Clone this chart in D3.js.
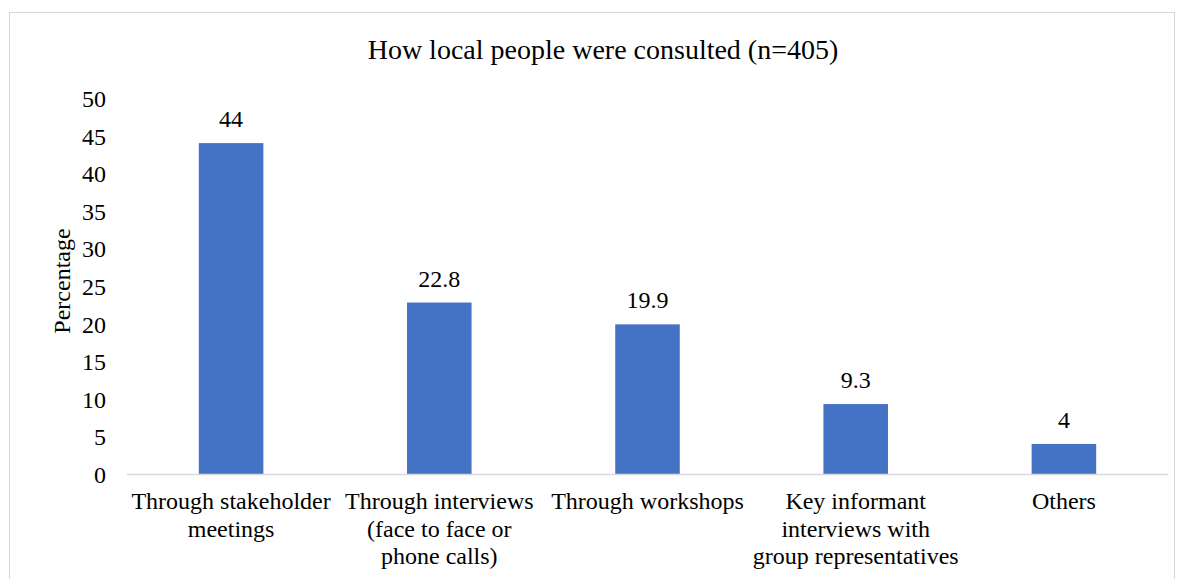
<!DOCTYPE html>
<html>
<head>
<meta charset="utf-8">
<script src="https://cdn.jsdelivr.net/npm/d3@7"></script>
<style>
  html, body { margin: 0; padding: 0; background: #fff; }
  svg { display: block; }
</style>
</head>
<body>
<svg id="chart" width="1184" height="579"></svg>
<script>
// Survey responses: how local people were consulted (n=405)
const categories = [
  ["Through stakeholder", "meetings"],
  ["Through interviews", "(face to face or", "phone calls)"],
  ["Through workshops"],
  ["Key informant", "interviews with", "group representatives"],
  ["Others"]
];
const percentages = [44, 22.8, 19.9, 9.3, 4];
const yTicks = [0, 5, 10, 15, 20, 25, 30, 35, 40, 45, 50];
const chartTitle = "How local people were consulted (n=405)";
const yTitle = "Percentage";

const FONT = "'Liberation Serif', 'Times New Roman', serif";
const W = 1184, H = 579;
const margin = { top: 98, right: 16, bottom: 105, left: 127 };
const svg = d3.select("#chart");

// chart frame
svg.append("rect")
  .attr("x", 9.5).attr("y", 12.5)
  .attr("width", 1165).attr("height", 580)
  .attr("fill", "none").attr("stroke", "#d9d9d9").attr("stroke-width", 1);

const x = d3.scaleBand()
  .domain(d3.range(categories.length))
  .range([margin.left, W - margin.right])
  .paddingInner(0.69).paddingOuter(0.345);

const y = d3.scaleLinear()
  .domain([0, 50])
  .range([H - margin.bottom, margin.top]);

// title
svg.append("text")
  .attr("x", 603).attr("y", 59)
  .attr("text-anchor", "middle")
  .style("font-family", FONT)
  .style("font-size", "28px")
  .attr("fill", "#000")
  .text(chartTitle);

// y axis (labels only)
const yAxis = d3.axisLeft(y).tickValues(yTicks).tickSize(0).tickPadding(0);
const gy = svg.append("g")
  .attr("transform", `translate(106,0)`)
  .call(yAxis);
gy.select(".domain").remove();
gy.selectAll("text")
  .style("font-size", "24px")
  .style("font-family", FONT)
  .attr("fill", "#000")
  .attr("dy", "0.35em");

// y axis title
svg.append("text")
  .attr("transform", `translate(70,281) rotate(-90)`)
  .attr("text-anchor", "middle")
  .style("font-family", FONT)
  .style("font-size", "24px")
  .attr("fill", "#000")
  .text(yTitle);

// bars
svg.append("g").selectAll("rect")
  .data(percentages)
  .join("rect")
  .attr("x", (d, i) => x(i))
  .attr("y", d => y(d))
  .attr("width", x.bandwidth())
  .attr("height", d => y(0) - y(d))
  .attr("fill", "#4472c4");

// value labels
svg.append("g").selectAll("text")
  .data(percentages)
  .join("text")
  .attr("x", (d, i) => x(i) + x.bandwidth() / 2)
  .attr("y", d => y(d) - 16)
  .attr("text-anchor", "middle")
  .style("font-family", FONT)
  .style("font-size", "24px")
  .attr("fill", "#000")
  .text(d => d);

// x axis baseline
svg.append("line")
  .attr("x1", margin.left).attr("x2", W - margin.right)
  .attr("y1", y(0) + 0.5).attr("y2", y(0) + 0.5)
  .attr("stroke", "#d9d9d9").attr("stroke-width", 1.5);

// category labels
const xAxis = d3.axisBottom(x).tickSize(0).tickFormat(() => "");
const gx = svg.append("g")
  .attr("transform", `translate(0,${y(0)})`)
  .call(xAxis);
gx.select(".domain").remove();
gx.selectAll(".tick").each(function(i) {
  const t = d3.select(this).append("text")
    .attr("text-anchor", "middle")
    .attr("fill", "#000")
    .style("font-size", "24px")
    .style("font-family", FONT);
  categories[i].forEach((line, k) => {
    t.append("tspan").attr("x", 0).attr("y", 35 + k * 27.5).text(line);
  });
});
</script>
</body>
</html>
